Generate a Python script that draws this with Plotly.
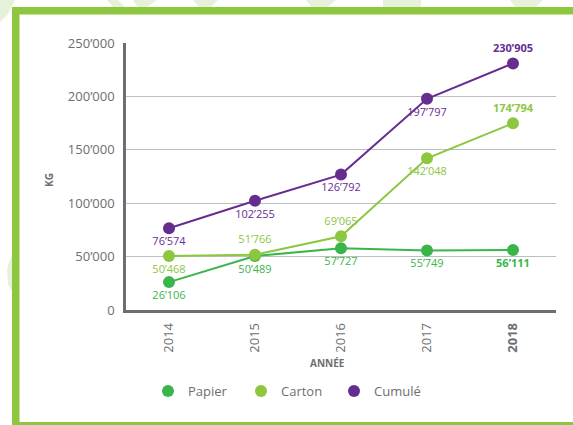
import plotly.graph_objects as go

years = ["2014", "2015", "2016", "2017", "2018"]
year_ticktext = ["2014", "2015", "2016", "2017", "<b>2018</b>"]
papier = [26106, 50489, 57727, 55749, 56111]
carton = [50468, 51766, 69065, 142048, 174794]
cumule = [76574, 102255, 126792, 197797, 230905]
y_tickvals = [0, 50000, 100000, 150000, 200000, 250000]
y_ticktext = ["0", "50’000", "100’000", "150’000", "200’000", "250’000"]

papier_pos = ["bottom center"] * 5
carton_pos = ["bottom center", "top center", "top center", "bottom center", "top center"]
cumule_pos = ["bottom center", "bottom center", "bottom center", "bottom center", "top center"]

C_PAP = "#39b54a"
C_CAR = "#8dc63f"
C_CUM = "#662d91"
GREY = "#6d6e71"
FONT = "Open Sans"


def fmt(v, bold=False):
    s = f"{v:,}".replace(",", "’")
    return f"<b>{s}</b>" if bold else s


def labels(vals):
    return [fmt(v, i == len(vals) - 1) for i, v in enumerate(vals)]


fig = go.Figure()
for name, vals, col, pos in [
    ("Papier", papier, C_PAP, papier_pos),
    ("Carton", carton, C_CAR, carton_pos),
    ("Cumulé", cumule, C_CUM, cumule_pos),
]:
    fig.add_trace(go.Scatter(
        x=years, y=vals, mode="lines+markers+text", name=name,
        line=dict(color=col, width=2),
        marker=dict(color=col, size=12),
        text=labels(vals), textposition=pos,
        textfont=dict(family=FONT, size=11, color=col),
        showlegend=False, cliponaxis=False, hoverinfo="skip",
    ))

for name, col in [("Papier", C_PAP), ("Carton", C_CAR), ("Cumulé", C_CUM)]:
    fig.add_trace(go.Scatter(
        x=[None], y=[None], mode="markers", name=name,
        marker=dict(color=col, size=12), showlegend=True,
    ))

frame = C_CAR
LEAF = "#e6f1da"


def px_x(px):
    return (px - 126) / 430


def px_y(py):
    return (310 - py) / 267


def poly(points):
    d = "M " + " L ".join(f"{px_x(a):.4f},{px_y(b):.4f}" for a, b in points) + " Z"
    return dict(type="path", xref="paper", yref="paper", path=d,
                fillcolor=LEAF, line=dict(width=0), layer="below")


shapes = [
    # faint background leaves
    poly([(0, 0), (15, 0), (8, 14), (0, 22)]),
    poly([(107, 0), (118, 0), (126, 8), (114, 8)]),
    poly([(133, 0), (157, 0), (146, 8), (138, 8)]),
    poly([(193, 0), (218, 0), (210, 8), (200, 8)]),
    poly([(306, 0), (336, 0), (326, 8), (312, 8)]),
    poly([(383, 0), (421, 0), (421, 8), (383, 8)]),
    poly([(510, 0), (543, 0), (535, 8), (516, 8)]),
    poly([(12, 255), (12, 292), (8, 284), (7, 270), (9, 262)]),
    # green frame
    dict(type="rect", xref="paper", yref="paper", x0=px_x(12), x1=px_x(19.5),
         y0=px_y(7), y1=px_y(440), fillcolor=frame, line=dict(width=0), layer="below"),
    dict(type="rect", xref="paper", yref="paper", x0=px_x(12), x1=px_x(590),
         y0=px_y(7), y1=px_y(14.5), fillcolor=frame, line=dict(width=0), layer="below"),
    dict(type="rect", xref="paper", yref="paper", x0=px_x(12), x1=px_x(590),
         y0=px_y(422), y1=px_y(440), fillcolor=frame, line=dict(width=0), layer="below"),
]

annotations = [
    dict(text="<b>KG</b>", xref="paper", yref="paper", x=px_x(49), y=px_y(180),
         textangle=-90, showarrow=False, font=dict(family=FONT, size=10, color=GREY),
         xanchor="center", yanchor="middle"),
    dict(text="<b>ANNÉE</b>", xref="paper", yref="paper", x=px_x(327), y=px_y(363),
         showarrow=False, font=dict(family=FONT, size=10, color=GREY),
         xanchor="center", yanchor="middle"),
]

fig.update_layout(
    width=573, height=425,
    margin=dict(l=126, r=17, t=43, b=115, autoexpand=False),
    paper_bgcolor="white", plot_bgcolor="white",
    font=dict(family=FONT, color=GREY),
    shapes=shapes, annotations=annotations,
    showlegend=True, hovermode=False,
    legend=dict(orientation="h", x=px_x(148), xanchor="left", y=px_y(391), yanchor="middle",
                font=dict(family=FONT, size=13, color=GREY),
                entrywidth=48, entrywidthmode="pixels",
                bgcolor="rgba(0,0,0,0)"),
    xaxis=dict(
        type="category", range=[-0.5, 4.5], automargin=False,
        tickvals=years, ticktext=year_ticktext, tickangle=-90,
        tickfont=dict(family=FONT, size=13, color=GREY),
        showline=True, linecolor=GREY, linewidth=2.5, showgrid=False,
        ticks="", ticklabelstandoff=5,
    ),
    yaxis=dict(
        range=[0, 250000], tickvals=y_tickvals, ticktext=y_ticktext, automargin=False,
        tickfont=dict(family=FONT, size=13, color=GREY),
        showline=True, linecolor=GREY, linewidth=2.5,
        showgrid=True, gridcolor="#bcbec0", gridwidth=1, zeroline=False,
        ticks="", ticklabelstandoff=6,
    ),
)

fig.write_html("out.html", config={"displayModeBar": False, "staticPlot": False},
               post_script="document.body.style.margin='0';document.body.style.padding='0';")
